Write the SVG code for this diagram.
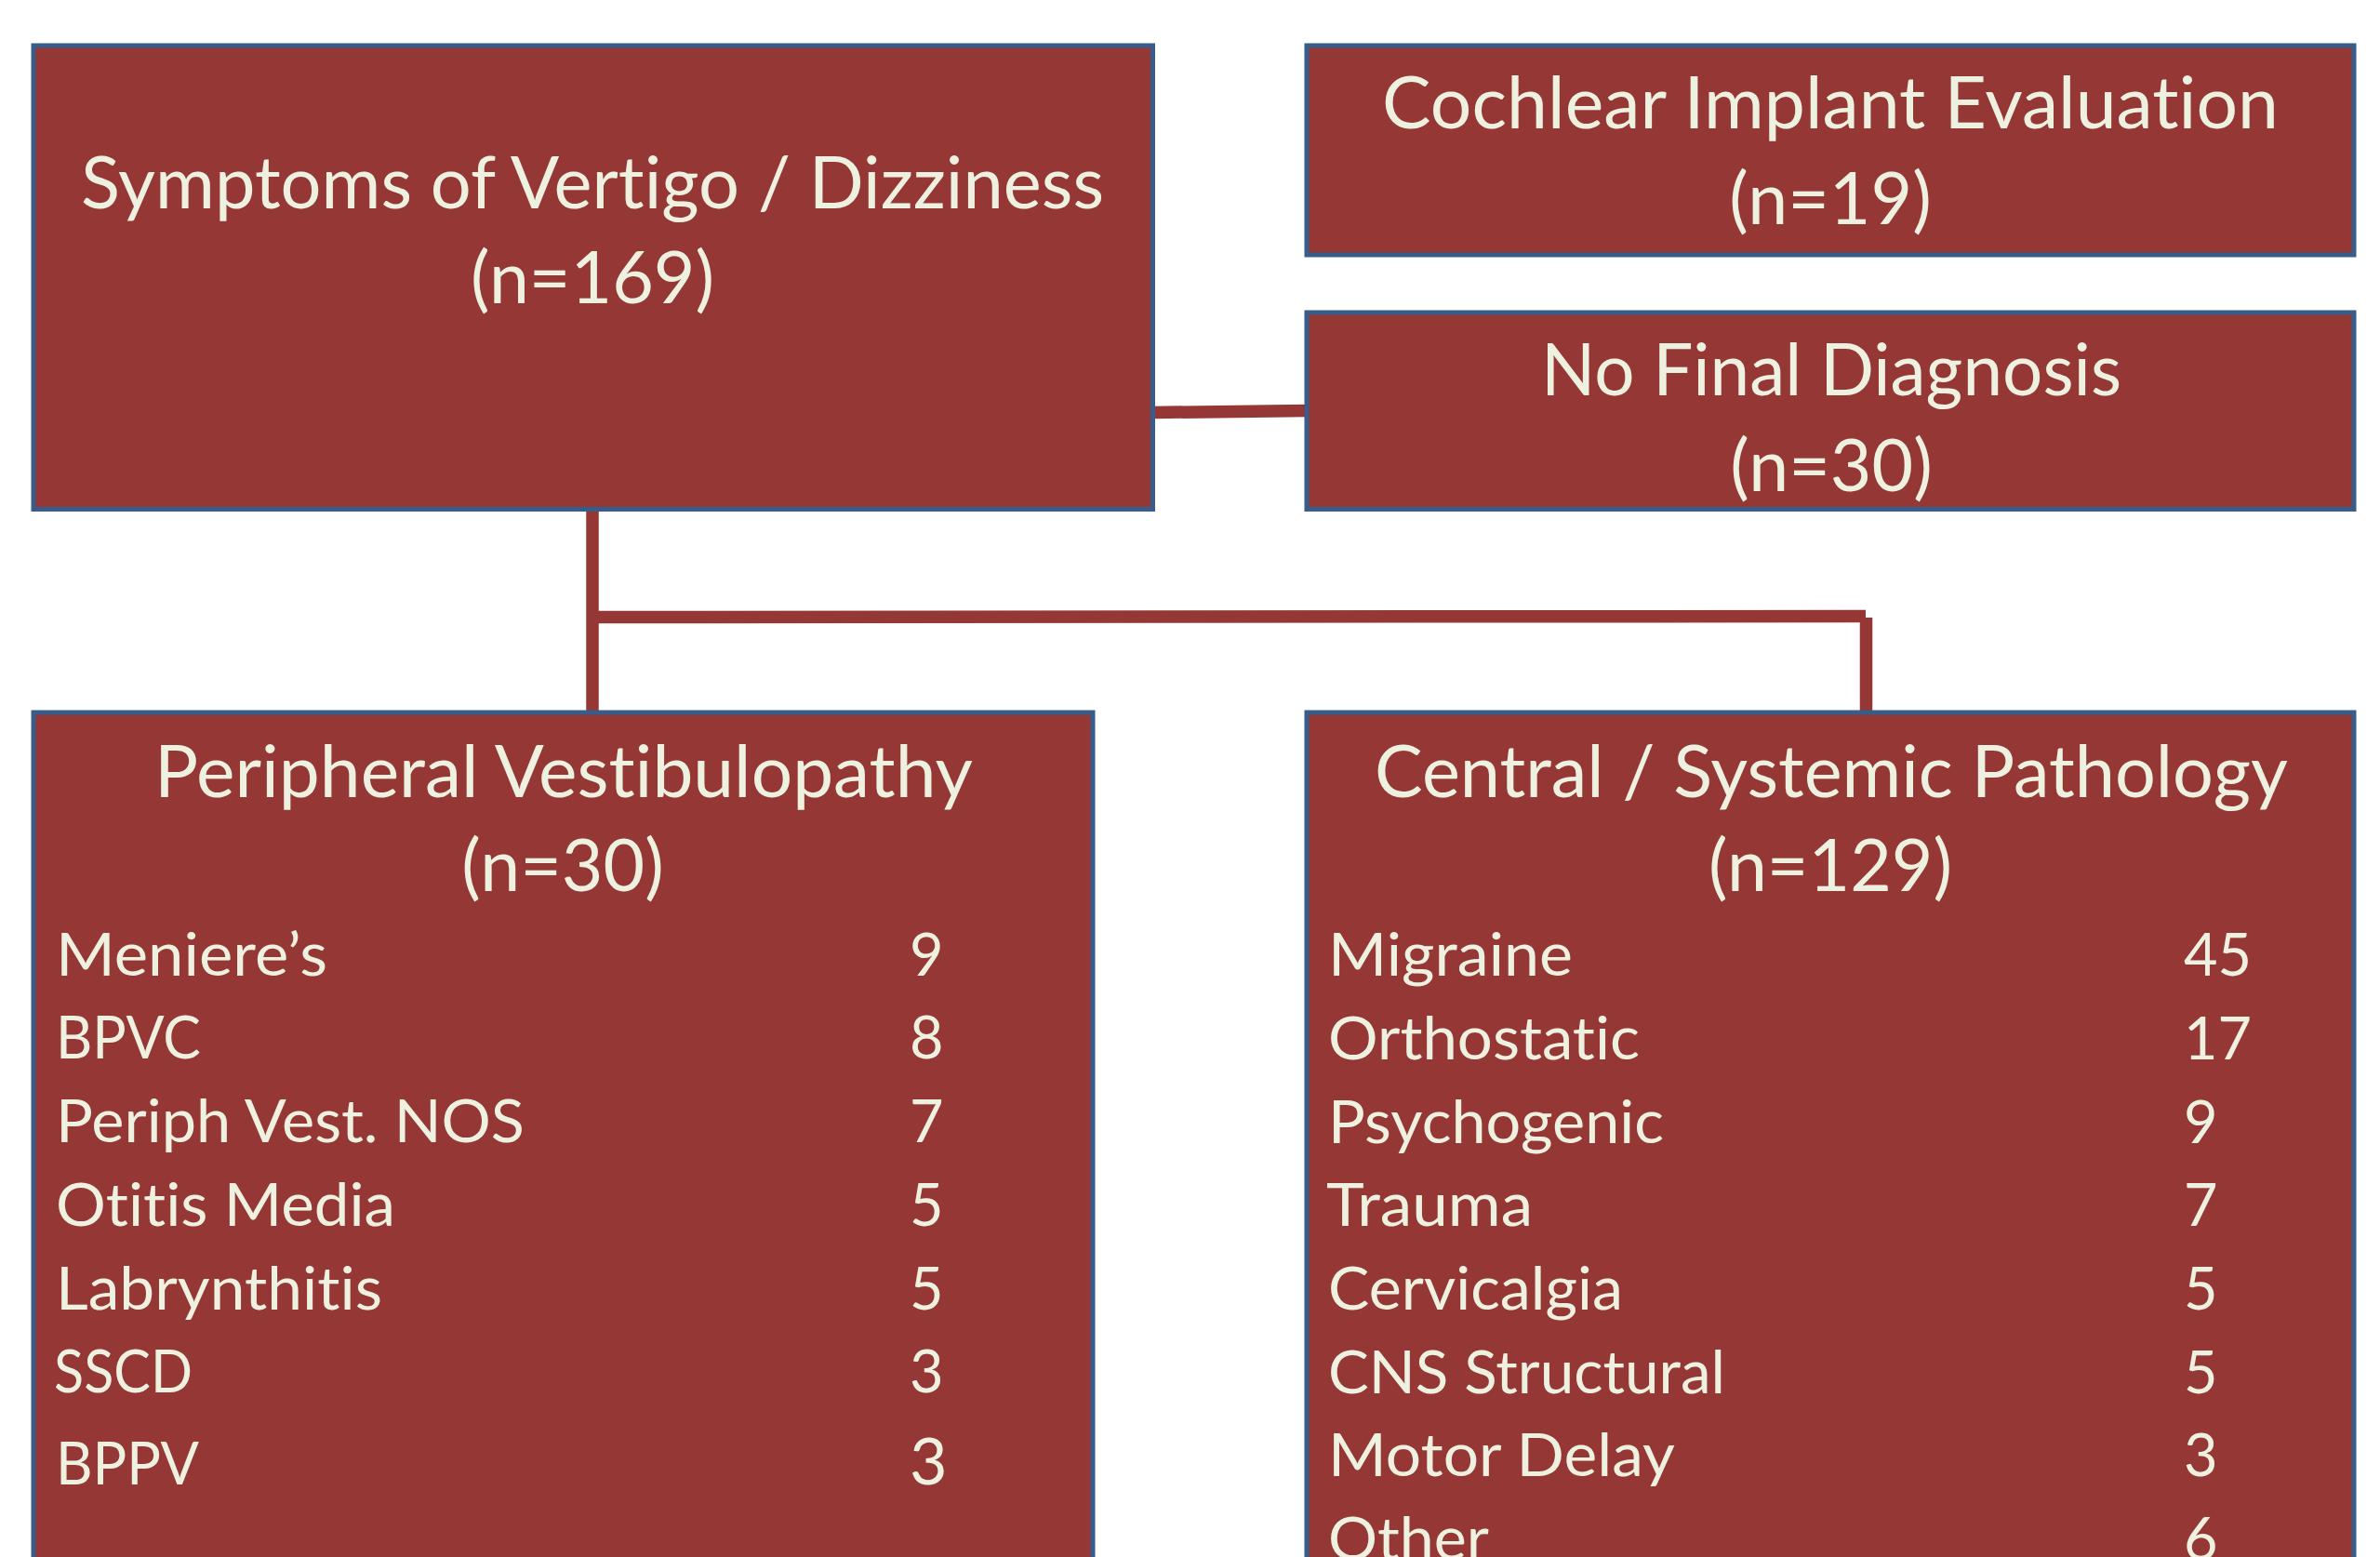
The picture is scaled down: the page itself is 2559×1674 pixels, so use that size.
<svg xmlns="http://www.w3.org/2000/svg" width="2559" height="1674" viewBox="0 0 2559 1674">
<style>
.box{fill:#953735;stroke:#385D8A;stroke-width:5}
.conn{stroke:#953735;fill:none;stroke-width:13.5}
text{font-family:Lato,"Liberation Sans",sans-serif;fill:#EEF1E0;font-variant-ligatures:none;font-feature-settings:"liga" 0,"clig" 0,"dlig" 0}
.t{font-size:77px;text-anchor:middle}
.l{font-size:63px}
</style>
<rect width="2559" height="1674" fill="#FFFFFF"/>
<g id="connectors">
<line class="conn" x1="1239" y1="443.5" x2="1406" y2="441.5"/>
<line class="conn" x1="637" y1="548" x2="637" y2="766"/>
<line class="conn" x1="637" y1="663.5" x2="2006" y2="662.5"/>
<line class="conn" x1="2006.5" y1="664" x2="2006.5" y2="766"/>
</g>
<g id="symptoms">
<rect class="box" x="36" y="49" width="1203.5" height="498.5"/>
<text class="t" x="637" y="224" textLength="1100" lengthAdjust="spacingAndGlyphs">Symptoms of Vertigo / Dizziness</text>
<text class="t" x="637" y="326">(n=169)</text>
</g>
<g id="cochlear">
<rect class="box" x="1405" y="49" width="1126" height="225"/>
<text class="t" x="1968" y="138" textLength="964" lengthAdjust="spacingAndGlyphs">Cochlear Implant Evaluation</text>
<text class="t" x="1968" y="241">(n=19)</text>
</g>
<g id="no-final">
<rect class="box" x="1405" y="336" width="1126" height="211.5"/>
<text class="t" x="1969" y="425" textLength="624" lengthAdjust="spacingAndGlyphs">No Final Diagnosis</text>
<text class="t" x="1969" y="528">(n=30)</text>
</g>
<g id="peripheral">
<rect class="box" x="36" y="766" width="1139" height="1000"/>
<text class="t" x="606" y="857" textLength="880" lengthAdjust="spacingAndGlyphs">Peripheral Vestibulopathy</text>
<text class="t" x="605" y="958">(n=30)</text>
<text class="l" x="60" y="1049" textLength="292" lengthAdjust="spacingAndGlyphs">Meniere’s</text>
<text class="l" x="60" y="1138" textLength="156" lengthAdjust="spacingAndGlyphs">BPVC</text>
<text class="l" x="60" y="1228" textLength="504" lengthAdjust="spacingAndGlyphs">Periph Vest. NOS</text>
<text class="l" x="60" y="1318" textLength="365" lengthAdjust="spacingAndGlyphs">Otitis Media</text>
<text class="l" x="60" y="1408" textLength="351" lengthAdjust="spacingAndGlyphs">Labrynthitis</text>
<text class="l" x="58" y="1497" textLength="149" lengthAdjust="spacingAndGlyphs">SSCD</text>
<text class="l" x="60" y="1596" textLength="154" lengthAdjust="spacingAndGlyphs">BPPV</text>
<text class="l" x="978" y="1049">9</text>
<text class="l" x="978" y="1138">8</text>
<text class="l" x="978" y="1228">7</text>
<text class="l" x="978" y="1318">5</text>
<text class="l" x="978" y="1408">5</text>
<text class="l" x="978" y="1497">3</text>
<text class="l" x="978" y="1596" style="font-size:70px">3</text>
</g>
<g id="central">
<rect class="box" x="1405" y="766" width="1126" height="1000"/>
<text class="t" x="1969" y="857" textLength="982" lengthAdjust="spacingAndGlyphs">Central / Systemic Pathology</text>
<text class="t" x="1968" y="958">(n=129)</text>
<text class="l" x="1428" y="1049" textLength="263" lengthAdjust="spacingAndGlyphs">Migraine</text>
<text class="l" x="1428" y="1139" textLength="335" lengthAdjust="spacingAndGlyphs">Orthostatic</text>
<text class="l" x="1428" y="1229" textLength="361" lengthAdjust="spacingAndGlyphs">Psychogenic</text>
<text class="l" x="1426" y="1318" textLength="222" lengthAdjust="spacingAndGlyphs">Trauma</text>
<text class="l" x="1428" y="1408" textLength="317" lengthAdjust="spacingAndGlyphs">Cervicalgia</text>
<text class="l" x="1428" y="1498" textLength="427" lengthAdjust="spacingAndGlyphs">CNS Structural</text>
<text class="l" x="1428" y="1587" textLength="373" lengthAdjust="spacingAndGlyphs">Motor Delay</text>
<text class="l" x="1428" y="1677" textLength="173" lengthAdjust="spacingAndGlyphs">Other</text>
<text class="l" x="2348" y="1049">45</text>
<text class="l" x="2348" y="1139">17</text>
<text class="l" x="2348" y="1229">9</text>
<text class="l" x="2348" y="1318">7</text>
<text class="l" x="2348" y="1408">5</text>
<text class="l" x="2348" y="1498">5</text>
<text class="l" x="2348" y="1587">3</text>
<text class="l" x="2348" y="1677">6</text>
</g>
</svg>
